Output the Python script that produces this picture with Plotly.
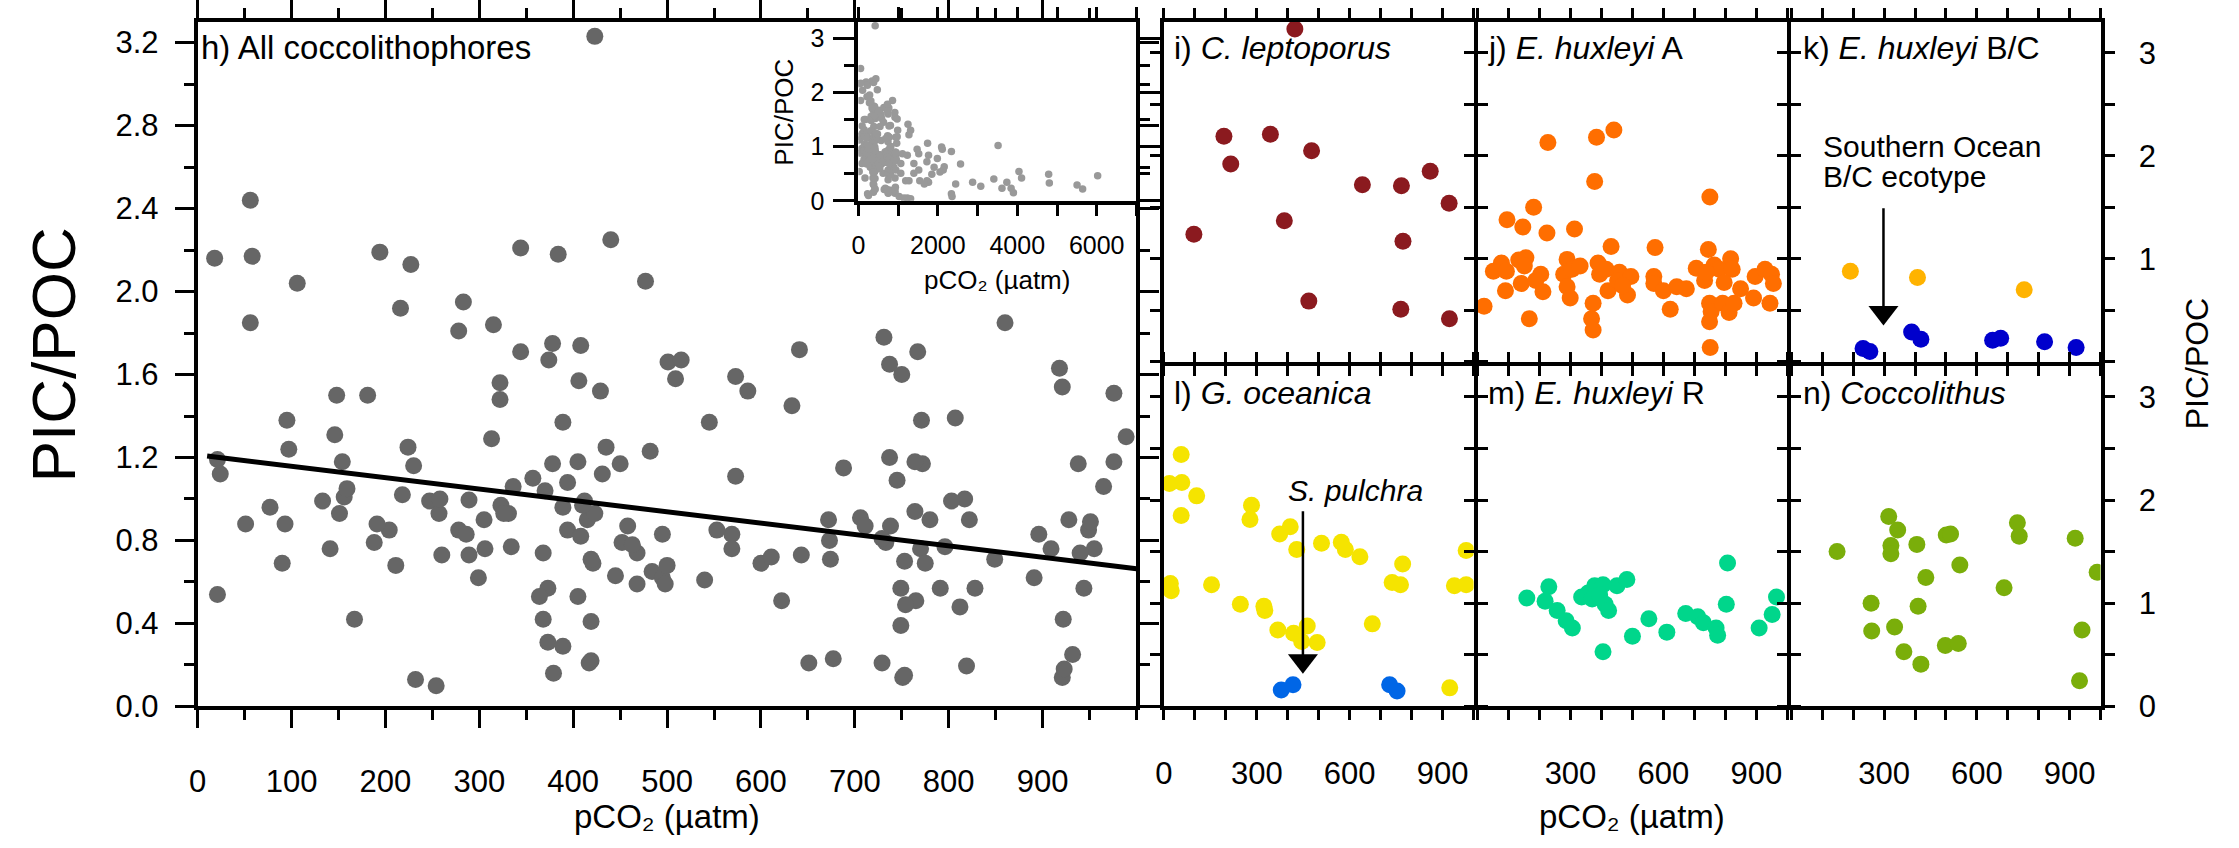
import plotly.graph_objects as go

# ---------------- data (pCO2 in uatm, PIC/POC ratio) ----------------
# i) C. leptoporus
lep_x = [423, 194, 344, 216, 477, 641, 767, 860, 921, 389, 97, 772, 468, 765, 922]
lep_y = [3.23, 2.19, 2.21, 1.92, 2.05, 1.72, 1.71, 1.85, 1.54, 1.37, 1.24, 1.17, 0.59, 0.51, 0.42]

# j) E. huxleyi A
ehA_x = [227, 384, 440, 378, 750, 181, 95, 146, 224, 313, 431, 573, 745, 21, 51,
         77, 93, 90, 133, 156, 151, 141, 167, 204, 188, 211, 289, 278, 305, 331,
         289, 299, 373, 368, 373, 389, 394, 415, 421, 458, 452, 495, 484, 468, 569,
         569, 600, 622, 643, 674, 706, 733, 764, 780, 817, 822, 796, 749, 754, 749,
         751, 791, 812, 828, 849, 891, 896, 928, 949, 955, 944, 738]
ehA_y = [2.13, 2.18, 2.25, 1.75, 1.60, 1.50, 1.38, 1.31, 1.25, 1.29, 1.12, 1.11, 1.09, 0.54, 0.88,
         0.96, 0.88, 0.69, 0.99, 1.01, 0.93, 0.76, 0.42, 0.85, 0.79, 0.68, 0.995, 0.85, 0.90, 0.93,
         0.73, 0.62, 0.57, 0.42, 0.31, 0.96, 0.85, 0.90, 0.69, 0.87, 0.79, 0.83, 0.65, 0.74, 0.83,
         0.76, 0.69, 0.51, 0.73, 0.71, 0.91, 0.79, 0.94, 0.90, 1.00, 0.90, 0.77, 0.57, 0.49, 0.39,
         0.14, 0.57, 0.48, 0.57, 0.71, 0.62, 0.83, 0.90, 0.85, 0.76, 0.57, 0.87]

# k) E. huxleyi B/C (non-Southern-Ocean) and Southern Ocean B/C ecotype
ehBC_x = [191, 408, 753]
ehBC_y = [0.88, 0.82, 0.70]
soBC_x = [232, 254, 389, 419, 651, 677, 819, 921]
soBC_y = [0.13, 0.10, 0.29, 0.22, 0.21, 0.23, 0.195, 0.14]

# l) G. oceanica and S. pulchra
goc_x = [56, 18, 58, 106, 56, 21, 24, 154, 283, 278, 374, 408, 429, 509, 573,
         586, 633, 771, 737, 764, 976, 938, 976, 247, 323, 326, 368, 419, 463, 445,
         495, 673, 923]
goc_y = [2.44, 2.16, 2.17, 2.04, 1.85, 1.19, 1.12, 1.18, 1.95, 1.81, 1.67, 1.74, 1.52, 1.58, 1.59,
         1.52, 1.45, 1.38, 1.20, 1.18, 1.51, 1.17, 1.18, 0.99, 0.97, 0.93, 0.74, 0.71, 0.78, 0.63,
         0.62, 0.80, 0.18]
spu_x = [379, 417, 729, 753]
spu_y = [0.16, 0.21, 0.21, 0.15]

# m) E. huxleyi R
ehR_x = [159, 230, 218, 257, 286, 306, 336, 357, 378, 370, 405, 394, 412, 423, 450,
         482, 405, 500, 553, 611, 672, 711, 729, 770, 775, 807, 803, 909, 951, 965]
ehR_y = [1.05, 1.16, 1.02, 0.93, 0.83, 0.76, 1.06, 1.10, 1.17, 1.04, 1.18, 1.08, 0.99, 0.93, 1.17,
         1.23, 0.53, 0.68, 0.85, 0.72, 0.90, 0.87, 0.81, 0.76, 0.69, 1.39, 0.99, 0.76, 0.89, 1.06]

# n) Coccolithus
coc_x = [148, 315, 344, 322, 322, 406, 501, 515, 545, 435, 731, 737, 688, 918, 989,
         258, 410, 260, 334, 364, 419, 498, 540, 940, 932]
coc_y = [1.50, 1.84, 1.71, 1.56, 1.48, 1.57, 1.66, 1.67, 1.37, 1.25, 1.78, 1.65, 1.15, 1.63, 1.30,
         1.00, 0.97, 0.73, 0.77, 0.53, 0.41, 0.59, 0.61, 0.74, 0.25]

# high-pCO2 observations (only visible in the inset)
hi_x = [1249, 1315, 1273, 1479, 1520, 1397, 1520, 1545, 1725, 1274, 1233, 1315, 1742, 1766, 1725,
        1988, 2095, 2112, 2161, 2136, 2054, 1906, 1849, 1767, 1660, 2342, 2572, 2449, 2342, 2358,
        2876, 3081, 3410, 3517, 3615, 3738, 3845, 3903, 4043, 4108, 4790, 4807, 5505, 5645, 6023,
        1068, 1109, 1191, 1027, 1150, 1068, 1232, 1397]
hi_y = [1.41, 1.30, 1.22, 0.95, 0.87, 0.69, 0.57, 0.37, 0.37, 0.37, 0.05, 0.04, 1.06, 0.84, 0.72,
        0.78, 0.99, 0.95, 0.63, 0.57, 0.53, 0.62, 0.49, 0.34, 0.31, 0.91, 0.68, 0.31, 0.13, 0.08,
        0.34, 0.27, 0.40, 1.02, 0.23, 0.34, 0.23, 0.15, 0.54, 0.42, 0.49, 0.33, 0.29, 0.22, 0.46,
        0.69, 0.87, 0.37, 0.08, 0.05, 0.51, 0.84, 0.51]

# linear fit through all coccolithophores (endpoints of the drawn regression)
fit_x = [10, 1000]
fit_y = [1.207, 0.664]

# annotation arrows: (panel, pCO2, tail PIC/POC, tip PIC/POC)
arrow_panel = [5, 6]
arrow_x = [298, 449]
arrow_tail = [1.49, 1.89]
arrow_tip = [0.357, 0.32]

# tick labels
main_xticks = [0, 100, 200, 300, 400, 500, 600, 700, 800, 900]
main_yticks = [0, 0.4, 0.8, 1.2, 1.6, 2.0, 2.4, 2.8, 3.2]
inset_xticks = [0, 2000, 4000, 6000]
inset_yticks = [0, 1, 2, 3]
small_xticks_first = [0, 300, 600, 900]
small_xticks_other = [300, 600, 900]
small_yticks_top = [1, 2, 3]
small_yticks_bottom = [0, 1, 2, 3]

XTITLE = "pCO₂ (µatm)"
YTITLE = "PIC/POC"

# ---------------- layout helpers ----------------
W, H = 2239, 848
FONT = "Liberation Sans, Arial, Helvetica, DejaVu Sans, sans-serif"
TICKFONT = dict(family=FONT, size=31, color="black")


def fx(p):
    return p / W


def fy(p):
    return 1 - p / H


def minor(dt, ln):
    return dict(dtick=dt, tick0=0, ticklen=ln, tickwidth=2.5, ticks="outside", tickcolor="black")


def axis(**kw):
    d = dict(showline=True, linewidth=4, linecolor="black", mirror="ticks",
             ticks="outside", tickcolor="black", tickwidth=2.5, showgrid=False,
             zeroline=False, tickfont=TICKFONT)
    d.update(kw)
    return d


main_x = lep_x + ehA_x + ehBC_x + soBC_x + goc_x + spu_x + ehR_x + coc_x
main_y = lep_y + ehA_y + ehBC_y + soBC_y + goc_y + spu_y + ehR_y + coc_y

# geometry (pixel positions of axis-line centres)
mL, mR, mT, mB = 187.5, 1134, 13.3, 722.7
iL, iB = 850.8, 201.7
cols = [1157.5, 1472.5, 1787.5, 2102]
rows = [13.3, 367.7, 722.7]
YMAX = 3.3
px_per_unit_small = (rows[1] - rows[0] - 4) / YMAX
HEAD = 26  # arrow head marker size (px)

fig = go.Figure()

# main panel
fig.add_trace(go.Scatter(x=main_x, y=main_y, mode="markers", xaxis="x", yaxis="y",
                         marker=dict(size=17, color="#666666", line=dict(width=0))))
fig.add_trace(go.Scatter(x=fit_x, y=fit_y, mode="lines", xaxis="x", yaxis="y",
                         line=dict(color="black", width=5)))
# inset
fig.add_trace(go.Scatter(x=main_x + hi_x, y=main_y + hi_y, mode="markers", xaxis="x2", yaxis="y2",
                         marker=dict(size=7.5, color="#999999", line=dict(width=0))))

panels = [
    (3, [(lep_x, lep_y, "#8B1A1F")]),
    (4, [(ehA_x, ehA_y, "#FF6E00")]),
    (5, [(ehBC_x, ehBC_y, "#FFB300"), (soBC_x, soBC_y, "#0000CC")]),
    (6, [(goc_x, goc_y, "#F5E400"), (spu_x, spu_y, "#0066E6")]),
    (7, [(ehR_x, ehR_y, "#00D68B")]),
    (8, [(coc_x, coc_y, "#7AAE0A")]),
]
for idx, series in panels:
    for sx, sy, col in series:
        fig.add_trace(go.Scatter(x=sx, y=sy, mode="markers", xaxis="x%d" % idx, yaxis="y%d" % idx,
                                 marker=dict(size=17, color=col, line=dict(width=0))))

# arrows: shaft line + triangular head whose tip sits on the target value
for p, ax_x, y0, y1 in zip(arrow_panel, arrow_x, arrow_tail, arrow_tip):
    head_c = y1 + (HEAD / 2) / px_per_unit_small
    fig.add_trace(go.Scatter(x=[ax_x, ax_x], y=[y0, head_c], mode="lines",
                             xaxis="x%d" % p, yaxis="y%d" % p, cliponaxis=False,
                             line=dict(color="black", width=2.5)))
    fig.add_trace(go.Scatter(x=[ax_x], y=[head_c], mode="markers",
                             xaxis="x%d" % p, yaxis="y%d" % p, cliponaxis=False,
                             marker=dict(symbol="triangle-down", size=HEAD, color="black",
                                         line=dict(width=0))))

layout = dict(
    width=W, height=H, margin=dict(l=0, r=0, t=0, b=0),
    paper_bgcolor="white", plot_bgcolor="white", showlegend=False,
    font=dict(family=FONT, color="black"),
)

layout["xaxis"] = axis(domain=[fx(mL + 2), fx(mR - 2)], range=[0, 1000], anchor="y",
                       tickvals=main_xticks, ticklen=18, ticklabelstandoff=26,
                       minor=minor(50, 10))
layout["yaxis"] = axis(domain=[fy(mB - 2), fy(mT + 2)], range=[0, YMAX], anchor="x",
                       tickvals=main_yticks, tickformat=".1f",
                       ticklen=19, ticklabelstandoff=10, minor=minor(0.2, 10))
layout["xaxis2"] = axis(domain=[fx(iL + 2), fx(mR - 2)], range=[0, 7000], anchor="y2",
                        tickvals=inset_xticks, ticklen=11, ticklabelstandoff=8,
                        tickfont=dict(family=FONT, size=25, color="black"),
                        minor=minor(1000, 11))
layout["yaxis2"] = axis(domain=[fy(iB - 2), fy(mT + 2)], range=[0, YMAX], anchor="x2",
                        tickvals=inset_yticks, ticklen=21, ticklabelstandoff=4,
                        tickfont=dict(family=FONT, size=25, color="black"),
                        minor=minor(0.5, 10))

for idx in range(3, 9):
    k = idx - 3
    c = k % 3
    r = k // 3
    xd = [fx(cols[c] + 2), fx(cols[c + 1] - 2)]
    yd = [fy(rows[r + 1] - 2), fy(rows[r] + 2)]
    if r == 0:
        xt = dict(dtick=100, tick0=0, showticklabels=False)
    else:
        xt = dict(tickvals=small_xticks_first if c == 0 else small_xticks_other,
                  showticklabels=True, ticklabelstandoff=26, minor=minor(100, 10))
    layout["xaxis%d" % idx] = axis(domain=xd, range=[0, 1000], anchor="y%d" % idx,
                                   ticklen=10, **xt)
    if c == 2:
        yt = dict(side="right", tickvals=small_yticks_top if r == 0 else small_yticks_bottom,
                  showticklabels=True, ticklabelstandoff=18, minor=minor(0.5, 10))
    else:
        yt = dict(dtick=0.5, tick0=0, showticklabels=False)
    layout["yaxis%d" % idx] = axis(domain=yd, range=[0, YMAX], anchor="x%d" % idx,
                                   ticklen=10, **yt)

ann = []


def text(t, x, y, size, angle=0, xanchor="left"):
    ann.append(dict(text=t, x=fx(x), y=fy(y), xref="paper", yref="paper", showarrow=False,
                    xanchor=xanchor, yanchor="middle", textangle=angle,
                    font=dict(family=FONT, size=size, color="black")))


text("h) All coccolithophores", 191, 42, 33)
text("i) <i>C. leptoporus</i>", 1168, 42, 32)
text("j) <i>E. huxleyi</i> A", 1483, 42, 32)
text("k) <i>E. huxleyi</i> B/C", 1799, 42, 32)
text("l) <i>G. oceanica</i>", 1168, 398, 32)
text("m) <i>E. huxleyi</i> R", 1483, 398, 32)
text("n) <i>Coccolithus</i>", 1799, 398, 32)
text("Southern Ocean", 1819, 144, 30)
text("B/C ecotype", 1819, 175, 30)
text("<i>S. pulchra</i>", 1282, 498, 30)

text(YTITLE, 45, 358, 62, angle=-90, xanchor="center")
text(YTITLE, 2197, 367, 32, angle=-90, xanchor="center")
text(YTITLE, 778, 108, 26, angle=-90, xanchor="center")
text(XTITLE, 660.7, 834, 33, xanchor="center")
text(XTITLE, 1630, 834, 33, xanchor="center")
text(XTITLE, 992, 281, 26, xanchor="center")

layout["annotations"] = ann
fig.update_layout(**layout)

fig.write_html("out.html", config={"displayModeBar": False},
               post_script="document.body.style.margin='0';document.body.style.overflow='hidden';")
